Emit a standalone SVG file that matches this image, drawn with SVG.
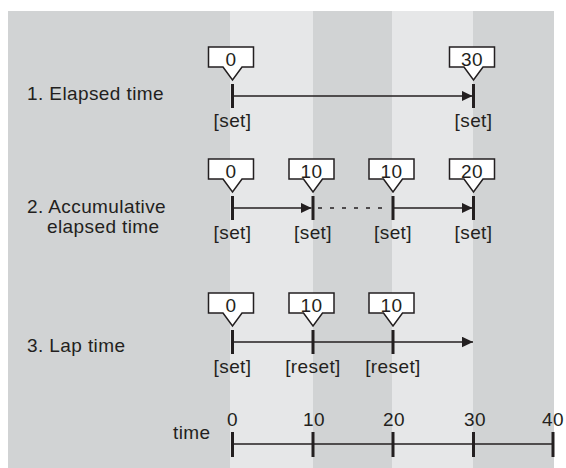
<svg xmlns="http://www.w3.org/2000/svg" width="566" height="468" viewBox="0 0 566 468">
<style>
.t{font-family:"Liberation Sans",Arial,Helvetica,sans-serif;font-size:19px;letter-spacing:0.4px;fill:#231f20}
.c{text-anchor:middle}
.box{fill:#ffffff;stroke:#231f20;stroke-width:1.5;stroke-linejoin:miter}
.tick{stroke:#231f20;stroke-width:3;fill:none}
.ln{stroke:#231f20;stroke-width:1.5;fill:none}
.dot{stroke:#231f20;stroke-width:1.5;fill:none;stroke-dasharray:4 8}
</style>
<defs>
<marker id="ah" markerUnits="userSpaceOnUse" markerWidth="11" markerHeight="11" refX="11" refY="5.3" orient="auto">
<path d="M0,0 L11,5.3 L0,10.6 Z" fill="#231f20"/>
</marker>
</defs>
<g id="background">
<rect x="8" y="11" width="546" height="457" fill="#d1d3d4"/>
<rect x="230" y="11" width="83" height="457" fill="#e6e7e8"/>
<rect x="392" y="11" width="81" height="457" fill="#e6e7e8"/>
</g>
<g id="labels">
<text class="t" x="27" y="100">1. Elapsed time</text>
<text class="t" x="27" y="213">2. Accumulative</text>
<text class="t" x="47" y="233">elapsed time</text>
<text class="t" x="27" y="352">3. Lap time</text>
</g>
<g id="connectors">
<line class="ln" x1="233" y1="96" x2="472.5" y2="96" marker-end="url(#ah)"/>
<line class="ln" x1="233" y1="208" x2="311.5" y2="208" marker-end="url(#ah)"/>
<line class="dot" x1="318" y1="208" x2="390" y2="208"/>
<line class="ln" x1="393" y1="208" x2="472.5" y2="208" marker-end="url(#ah)"/>
<line class="ln" x1="233" y1="342" x2="473" y2="342" marker-end="url(#ah)"/>
<line class="ln" x1="232.5" y1="444" x2="553.5" y2="444"/>
</g>
<g id="row1-start">
<path class="box" d="M208.5,47 H253.5 V67 H242 L232.5,80 L223,67 H208.5 Z"/>
<text class="t c" x="231" y="66">0</text>
<line class="tick" x1="232.5" y1="84" x2="232.5" y2="108"/>
<text class="t c" x="232.5" y="127">[set]</text>
</g>
<g id="row1-end">
<path class="box" d="M449.5,47 H494.5 V67 H483 L473.5,80 L464,67 H449.5 Z"/>
<text class="t c" x="472" y="66">30</text>
<line class="tick" x1="473.5" y1="84" x2="473.5" y2="108"/>
<text class="t c" x="473.5" y="127">[set]</text>
</g>
<g id="row2-a">
<path class="box" d="M208.5,159 H253.5 V179 H242 L232.5,192 L223,179 H208.5 Z"/>
<text class="t c" x="231" y="178">0</text>
<line class="tick" x1="232.5" y1="196" x2="232.5" y2="220"/>
<text class="t c" x="232.5" y="239">[set]</text>
</g>
<g id="row2-b">
<path class="box" d="M289,159 H334 V179 H322.5 L313,192 L303.5,179 H289 Z"/>
<text class="t c" x="311.5" y="178">10</text>
<line class="tick" x1="313" y1="196" x2="313" y2="220"/>
<text class="t c" x="313" y="239">[set]</text>
</g>
<g id="row2-c">
<path class="box" d="M369,159 H414 V179 H402.5 L393,192 L383.5,179 H369 Z"/>
<text class="t c" x="391.5" y="178">10</text>
<line class="tick" x1="393" y1="196" x2="393" y2="220"/>
<text class="t c" x="393" y="239">[set]</text>
</g>
<g id="row2-d">
<path class="box" d="M449.5,159 H494.5 V179 H483 L473.5,192 L464,179 H449.5 Z"/>
<text class="t c" x="472" y="178">20</text>
<line class="tick" x1="473.5" y1="196" x2="473.5" y2="220"/>
<text class="t c" x="473.5" y="239">[set]</text>
</g>
<g id="row3-a">
<path class="box" d="M208.5,293 H253.5 V313 H242 L232.5,326 L223,313 H208.5 Z"/>
<text class="t c" x="231" y="312">0</text>
<line class="tick" x1="232.5" y1="330" x2="232.5" y2="354"/>
<text class="t c" x="232.5" y="373">[set]</text>
</g>
<g id="row3-b">
<path class="box" d="M289,293 H334 V313 H322.5 L313,326 L303.5,313 H289 Z"/>
<text class="t c" x="311.5" y="312">10</text>
<line class="tick" x1="313" y1="330" x2="313" y2="354"/>
<text class="t c" x="313" y="373">[reset]</text>
</g>
<g id="row3-c">
<path class="box" d="M369,293 H414 V313 H402.5 L393,326 L383.5,313 H369 Z"/>
<text class="t c" x="391.5" y="312">10</text>
<line class="tick" x1="393" y1="330" x2="393" y2="354"/>
<text class="t c" x="393" y="373">[reset]</text>
</g>
<g id="time-axis">
<text class="t" x="173" y="439">time</text>
<line class="tick" x1="232.5" y1="432" x2="232.5" y2="457"/>
<line class="tick" x1="313" y1="432" x2="313" y2="457"/>
<line class="tick" x1="393" y1="432" x2="393" y2="457"/>
<line class="tick" x1="473.5" y1="432" x2="473.5" y2="457"/>
<line class="tick" x1="553" y1="432" x2="553" y2="457"/>
<text class="t c" x="232.5" y="426">0</text>
<text class="t c" x="314" y="426">10</text>
<text class="t c" x="394" y="426">20</text>
<text class="t c" x="475" y="426">30</text>
<text class="t c" x="553" y="426">40</text>
</g>
</svg>
